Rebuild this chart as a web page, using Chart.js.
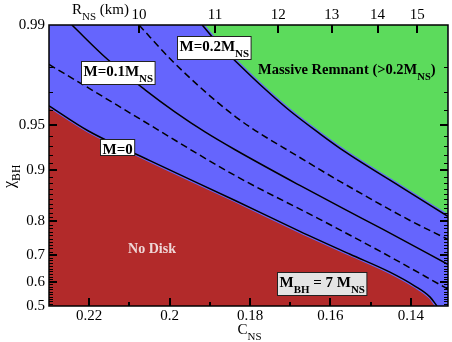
<!DOCTYPE html>
<html><head><meta charset="utf-8">
<script src="https://cdn.jsdelivr.net/npm/chart.js@4/dist/chart.umd.min.js"></script>
<style>html,body{margin:0;padding:0;background:#fff}</style>
</head><body>
<canvas id="c" width="452" height="342"></canvas>
<script>
// ---------- data ----------
const cTicks = [0.22, 0.20, 0.18, 0.16, 0.14];
const cTickLabels = ['0.22', '0.2', '0.18', '0.16', '0.14'];
const cMinorTicks = [0.21, 0.19, 0.17, 0.15];
const rTicks = [10, 11, 12, 13, 14, 15];
const chiTicks = [0.5, 0.6, 0.7, 0.8, 0.9, 0.95, 0.99];
const chiTickLabels = ['0.5', '0.6', '0.7', '0.8', '0.9', '0.95', '0.99'];

// contour M_disk = 0 (no disk boundary)
const m0C   = [0.2300, 0.2203, 0.2049, 0.1837, 0.1676, 0.1551, 0.1452, 0.1390, 0.1352, 0.1335];
const m0Chi = [0.9628, 0.945, 0.9134, 0.847, 0.7717, 0.7011, 0.6375, 0.5836, 0.5381, 0.500];
// contour 0.05 M_NS (dashed)
const m05C   = [0.2300, 0.2186, 0.2069, 0.1837, 0.1631, 0.1477, 0.1308];
const m05Chi = [0.9809, 0.9703, 0.9534, 0.8921, 0.8061, 0.7113, 0.5715];
// contour 0.1 M_NS
const m10C   = [0.2243, 0.2156, 0.2061, 0.1987, 0.1912, 0.1837, 0.1676, 0.1564, 0.1469, 0.1308];
const m10Chi = [0.990, 0.9826, 0.9712, 0.9591, 0.944, 0.9264, 0.8758, 0.8275, 0.7773, 0.6665];
// contour 0.15 M_NS (dashed)
const m15C   = [0.2076, 0.1992, 0.1835, 0.1676, 0.1571, 0.1402, 0.1308];
const m15Chi = [0.990, 0.9818, 0.9556, 0.9173, 0.8807, 0.8008, 0.7486];
// contour 0.2 M_NS (massive remnant boundary)
const m20C   = [0.1919, 0.1875, 0.1825, 0.1763, 0.1701, 0.1626, 0.1564, 0.1427, 0.1308];
const m20Chi = [0.990, 0.986, 0.9806, 0.9716, 0.9598, 0.9423, 0.9242, 0.874, 0.8111];

// ---------- axis definitions ----------
const X_MIN = 0.13075, X_MAX = 0.23;
const R_COEF = 2.076;                    // R_NS(km) = R_COEF / C_NS
const U_A = 60.07, U_B = 95.9, U_C = 30; // nonlinear chi axis
function u(chi) {
  return U_A * (-Math.log(1 - chi) - Math.LN2) + U_B * (chi - 0.5) + U_C * (chi - 0.5) * (0.99 - chi);
}
function pts(cs, chis) { return cs.map((c, i) => ({ x: c, y: u(chis[i]) })); }

const RED = '#b22a2a', BLUE = '#6565fd', GREEN = '#5cdb5c';
const FONT = '"Liberation Serif", "Times New Roman", serif';

// annotations (anchored in data coordinates)
const boxes = [
  { c: 0.21296, chi: 0.9783, parts: [['M=0.1M', 0], ['NS', 1]], fill: '#ffffff' },
  { c: 0.18908, chi: 0.9856, parts: [['M=0.2M', 0], ['NS', 1]], fill: '#ffffff' },
  { c: 0.21308, chi: 0.9290, parts: [['M=0', 0]], fill: '#ffffff' },
  { c: 0.16221, chi: 0.5943, parts: [['M', 0], ['BH', 1], [' = 7 M', 0], ['NS', 1]], fill: '#e4e4e4' }
];

function richWidth(ctx, parts, size, weight) {
  let w = 0;
  for (const [t, sub] of parts) {
    ctx.font = weight + ' ' + (sub ? size * 0.73 : size) + 'px ' + FONT;
    w += ctx.measureText(t).width;
  }
  return w;
}
function drawRich(ctx, x, y, parts, size, weight, color) {
  let cx = x;
  ctx.fillStyle = color;
  ctx.textBaseline = 'alphabetic';
  ctx.textAlign = 'left';
  for (const [t, sub] of parts) {
    const fs = sub ? size * 0.73 : size;
    ctx.font = weight + ' ' + fs + 'px ' + FONT;
    ctx.fillText(t, cx, sub ? y + size * 0.4 : y);
    cx += ctx.measureText(t).width;
  }
  return cx - x;
}

const deco = {
  id: 'deco',
  beforeDatasetsDraw(chart) {
    const { ctx, chartArea: a } = chart;
    ctx.save();
    ctx.fillStyle = BLUE;
    ctx.fillRect(a.left, a.top, a.right - a.left, a.bottom - a.top);
    ctx.restore();
  },
  afterDatasetsDraw(chart) {
    const { ctx, chartArea: a, scales } = chart;
    const sx = scales.x, sy = scales.y, sx2 = scales.x2;
    ctx.save();
    ctx.setLineDash([]);
    ctx.fillStyle = '#000';
    const L = Math.round(a.left), R = Math.round(a.right), T = Math.round(a.top), B = Math.round(a.bottom);
    // inward tick marks
    cTicks.forEach(v => { const p = Math.round(sx.getPixelForValue(v)); ctx.fillRect(p - 1, B - 8, 2, 8); });
    cMinorTicks.forEach(v => { const p = Math.round(sx.getPixelForValue(v)); ctx.fillRect(p - 1, B - 4, 2, 4); });
    rTicks.forEach(r => { const p = Math.round(sx2.getPixelForValue(R_COEF / r)); ctx.fillRect(p - 1, T, 2, 8); });
    for (let k = 51; k <= 98; k++) {
      const chi = k / 100;
      const major = chiTicks.some(t => Math.abs(t - chi) < 1e-9);
      const len = major ? 8 : 4;
      const th = major ? 2 : 1;
      const p = Math.round(sy.getPixelForValue(u(chi)));
      ctx.fillRect(L, p - (major ? 1 : 0), len, th);
      ctx.fillRect(R - len, p - (major ? 1 : 0), len, th);
    }
    ctx.strokeStyle = '#000';
    ctx.lineWidth = 1.5;
    ctx.strokeRect(a.left, a.top, a.right - a.left, a.bottom - a.top);

    // boxed labels
    boxes.forEach(b => {
      const hasSub = b.parts.some(p => p[1]);
      const size = 15;
      const w = richWidth(ctx, b.parts, size, 'bold') + 4;
      const h = hasSub ? 23 : 16;
      const cx = sx.getPixelForValue(b.c), cy = sy.getPixelForValue(u(b.chi));
      const left = Math.round(cx - w / 2) + 0.5, top = Math.round(cy - h / 2) + 0.5;
      ctx.fillStyle = b.fill;
      ctx.fillRect(left, top, w, h);
      ctx.lineWidth = 1;
      ctx.strokeStyle = '#222';
      ctx.strokeRect(left, top, w, h);
      drawRich(ctx, left + 2, top + 14, b.parts, size, 'bold', '#000');
    });

    // region texts
    const mx = sx.getPixelForValue(0.17801), my = sy.getPixelForValue(u(0.9778));
    drawRich(ctx, mx, my, [['Massive Remnant (>0.2M', 0], ['NS', 1], [')', 0]], 14.5, 'bold', '#000');
    ctx.font = 'bold 14px ' + FONT;
    ctx.fillStyle = '#efd6d6';
    ctx.textAlign = 'center';
    ctx.fillText('No Disk', sx.getPixelForValue(0.20438), sy.getPixelForValue(u(0.7044)));

    // axis titles
    const w = richWidth(ctx, [['C', 0], ['NS', 1]], 15, 'normal');
    const ccx = (a.left + a.right) / 2 + 1;
    drawRich(ctx, ccx - w / 2, a.bottom + 28, [['C', 0], ['NS', 1]], 15, 'normal', '#000');
    drawRich(ctx, 72, 13.5, [['R', 0], ['NS', 1], [' (km)', 0]], 15, 'normal', '#000');
    ctx.save();
    ctx.translate(14, 188);
    ctx.rotate(-Math.PI / 2);
    drawRich(ctx, 0, 0, [['\u03C7', 0], ['BH', 1]], 16, 'normal', '#000');
    ctx.restore();
    ctx.restore();
  }
};

const lineDs = (cs, chis, dash, extra) => Object.assign({
  data: pts(cs, chis),
  borderColor: '#000',
  borderWidth: 1.5,
  borderDash: dash ? [7, 4] : [],
  pointRadius: 0,
  fill: false,
  cubicInterpolationMode: 'monotone',
  xAxisID: 'x', yAxisID: 'y'
}, extra || {});

new Chart(document.getElementById('c'), {
  type: 'line',
  data: {
    datasets: [
      // black contour lines (drawn last, on top)
      lineDs(m0C, m0Chi, false),
      lineDs(m20C, m20Chi, false),
      lineDs(m05C, m05Chi, true),
      lineDs(m10C, m10Chi, false),
      lineDs(m15C, m15Chi, true),
      // region fills with a thin blue rim along the boundaries (drawn first)
      lineDs(m0C, m0Chi, false, { fill: 'start', backgroundColor: RED, borderColor: BLUE, borderWidth: 3.5 }),
      lineDs(m20C, m20Chi, false, { fill: 'end', backgroundColor: GREEN, borderColor: BLUE, borderWidth: 4 })
    ]
  },
  options: {
    responsive: false,
    animation: false,
    layout: { padding: { left: 0, right: 4, top: 0, bottom: 0 } },
    plugins: { legend: { display: false }, tooltip: { enabled: false } },
    scales: {
      x: {
        type: 'linear', position: 'bottom', reverse: true, min: X_MIN, max: X_MAX,
        afterBuildTicks: s => { s.ticks = cTicks.map(v => ({ value: v })); },
        afterFit: s => { s.height = 36; },
        grid: { display: false, drawTicks: false }, border: { display: false },
        ticks: { callback: (v, i) => cTickLabels[i], font: { family: FONT, size: 15 }, color: '#000', padding: 1, maxRotation: 0, autoSkip: false }
      },
      x2: {
        type: 'linear', position: 'top', reverse: true, min: X_MIN, max: X_MAX,
        afterBuildTicks: s => { s.ticks = rTicks.map(r => ({ value: R_COEF / r })); },
        afterFit: s => { s.height = 25; },
        grid: { display: false, drawTicks: false }, border: { display: false },
        ticks: { callback: (v, i) => String(rTicks[i]), font: { family: FONT, size: 15 }, color: '#000', padding: 1, maxRotation: 0, autoSkip: false }
      },
      y: {
        type: 'linear', position: 'left', min: 0, max: u(0.99),
        afterBuildTicks: s => { s.ticks = chiTicks.map(c => ({ value: u(c) })); },
        afterFit: s => { s.width = 49; },
        grid: { display: false, drawTicks: false }, border: { display: false },
        ticks: { callback: (v, i) => chiTickLabels[i], font: { family: FONT, size: 15 }, color: '#000', padding: 4, autoSkip: false }
      }
    }
  },
  plugins: [deco]
});
</script>
</body></html>
